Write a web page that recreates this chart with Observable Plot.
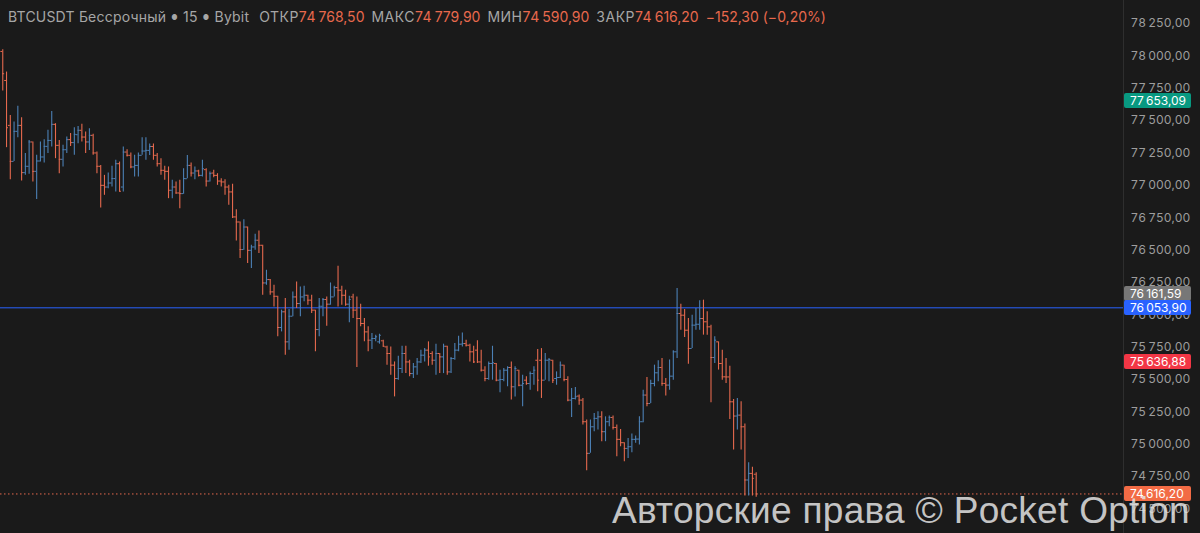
<!DOCTYPE html>
<html><head><meta charset="utf-8">
<script src="https://cdn.jsdelivr.net/npm/d3@7"></script>
<script src="https://cdn.jsdelivr.net/npm/@observablehq/plot@0.6"></script>
<style>
body{margin:0;background:#1a1a1a;}
#wrap{position:relative;width:1200px;height:533px;overflow:hidden;font-family:Inter,"Noto Sans",sans-serif;background:#1a1a1a;}
#chart svg{display:block;}
#hdr{position:absolute;left:8px;top:9px;font-size:14px;letter-spacing:0.5px;line-height:16px;color:#a6a6a6;white-space:nowrap;}
#hdr .t{letter-spacing:0.2px;}
#hdr .v{color:#e8694d;}
#hdr .dot{font-size:7px;vertical-align:2px;margin:0 1px;}
#sep{position:absolute;left:1123px;top:0;width:1px;height:533px;background:#2e2e2e;}
.badge{position:absolute;left:1124px;width:67px;height:15px;line-height:15px;border-radius:2px;color:#fff;font-size:12px;padding-left:6px;box-sizing:border-box;white-space:nowrap;}
#wm{position:absolute;left:612px;top:492px;font-family:"Liberation Sans",Arial,sans-serif;font-size:37px;letter-spacing:0.3px;line-height:37px;color:rgba(228,228,228,0.86);white-space:nowrap;}
</style></head>
<body>
<div id="wrap">
  <div id="chart"></div>
  <div id="sep"></div>
  <div id="hdr"></div>
  <div id="badges"></div>
  <div id="wm">Авторские права © Pocket Option</div>
</div>
<script>
const titleParts = ["BTCUSDT Бессрочный", "15", "Bybit"];
const opens = [78034,77810,77463,77185,77417,77463,77098,77147,77335,77108,77188,77219,77301,77347,77471,77309,77201,77275,77353,77330,77391,77425,77373,77335,77386,77250,77147,77000,76987,77018,77052,77167,76987,77257,77232,77142,77154,77232,77265,77270,77300,77232,77167,77116,77108,76962,76987,76941,76936,
77051,77154,77095,77111,77077,77121,77033,77095,77077,77033,77026,76987,76949,76756,76717,76504,76678,76498,76524,76576,76537,76246,76272,76177,76143,75902,76023,75791,75989,76138,76087,76138,76151,76113,76036,75886,76066,76118,76082,76138,76210,76190,76151,76082,76138,76036,75971,75933,75868,75804,75817,
75791,75799,75752,75701,75611,75508,75585,75701,75636,75546,75598,75636,75688,75727,75701,75649,75701,75675,75757,75559,75662,75727,75773,75778,75765,75714,75727,75636,75572,75508,75624,75624,75495,75500,75572,75593,75444,75572,75456,75495,75469,75546,75649,75649,75495,75649,75649,75508,75516,75611,75500,
75341,75354,75372,75341,75174,74930,75135,75200,75212,75097,75174,75207,75130,75038,75012,74968,74981,75038,75040,75174,75380,75315,75470,75552,75593,75470,75457,75526,75714,76010,75997,75881,75740,75920,75927,75971,75946,75907,75670,75791,75624,75521,75520,75328,75218,75225,75135,74724,74775,74768.5];
const highs = [78047,77875,77540,77489,77610,77522,77245,77347,77335,77232,77335,77353,77425,77571,77476,77347,77309,77373,77400,77445,77455,77471,77412,77437,77394,77257,77154,77077,77095,77147,77193,77180,77296,77275,77250,77232,77250,77368,77368,77320,77320,77245,77206,77147,77142,77039,77026,77039,77129,
77231,77172,77141,77116,77193,77129,77103,77116,77090,77051,77044,77000,77008,76812,76717,76735,76678,76537,76622,76648,76537,76344,76272,76228,76143,76036,76125,76041,76177,76254,76215,76221,76151,76151,76036,76125,76125,76138,76246,76221,76375,76221,76190,76143,76159,76138,76082,75971,75907,75855,75843,
75850,75804,75757,75752,75636,75680,75757,75757,75649,75624,75662,75727,75739,75791,75714,75773,75701,75773,75757,75670,75778,75835,75860,75804,75773,75757,75799,75727,75598,75636,75757,75624,75572,75585,75598,75636,75598,75572,75534,75521,75559,75598,75732,75739,75701,75662,75649,75559,75636,75611,75521,
75431,75439,75380,75354,75187,75187,75238,75251,75251,75212,75218,75218,75148,75115,75012,75045,75079,75063,75212,75418,75516,75495,75611,75645,75663,75508,75650,75722,76203,76082,76041,75971,75997,76048,76108,76113,76023,75920,75830,75791,75727,75663,75603,75346,75354,75328,75157,74858,74822,74779.9];
const lows = [77728,77291,77044,77185,77368,77034,77077,77085,77026,76890,77180,77172,77245,77296,77206,77090,77142,77245,77300,77232,77322,77335,77245,77270,77232,77090,76825,76923,76974,76987,76949,76949,76949,77219,77129,77064,77064,77232,77193,77230,77193,77142,77077,77039,76897,76897,76931,76820,76931,
77051,77064,77044,77064,77064,76987,77026,77059,77000,76987,76923,76846,76743,76570,76434,76498,76396,76357,76498,76473,76151,76228,76151,76061,75830,75868,75688,75727,75984,76048,75984,76100,76074,76010,75714,75830,75984,75912,76074,76138,76061,76074,76066,75938,75971,75593,75907,75791,75714,75732,75791,
75773,75752,75611,75534,75366,75495,75546,75546,75521,75508,75534,75624,75636,75603,75611,75534,75546,75546,75534,75546,75649,75714,75752,75752,75636,75624,75624,75559,75482,75495,75495,75482,75397,75482,75444,75341,75366,75444,75289,75456,75418,75456,75405,75354,75495,75482,75469,75456,75508,75482,75328,
75207,75341,75302,75148,74796,74930,75097,75110,75020,75020,75135,75110,74904,74981,74865,74891,74935,75007,74994,75166,75290,75315,75444,75482,75449,75372,75418,75495,75663,75881,75825,75619,75740,75881,75881,75843,75843,75320,75624,75573,75495,75470,75192,74955,75110,74955,74600,74600,74600,74590.9];
const closes = [77862,77445,77185,77417,77463,77098,77147,77335,77108,77188,77219,77301,77347,77471,77309,77201,77275,77353,77330,77394,77425,77373,77335,77386,77250,77147,77000,76987,77018,77052,77167,76954,77257,77232,77142,77154,77232,77265,77270,77300,77232,77167,77116,77108,76962,76987,76941,76936,77052,
77154,77095,77111,77077,77129,77033,77090,77077,77033,77026,76987,76949,76756,76717,76504,76678,76498,76524,76576,76537,76246,76272,76177,76143,75902,76023,75791,75989,76138,76087,76138,76151,76113,76036,75886,76066,76118,76082,76138,76210,76190,76151,76082,76118,76036,75971,75933,75868,75804,75817,75830,
75842,75757,75701,75611,75508,75585,75701,75636,75546,75598,75636,75688,75727,75675,75649,75701,75675,75757,75559,75662,75727,75773,75778,75765,75714,75636,75636,75572,75508,75624,75630,75495,75500,75572,75593,75444,75585,75456,75469,75469,75546,75572,75495,75495,75649,75655,75495,75516,75611,75500,75341,
75354,75367,75341,75174,74930,75135,75200,75212,75097,75174,75207,75130,75038,75012,74968,74981,75038,75040,75174,75380,75315,75470,75552,75593,75470,75457,75526,75714,76010,75997,75881,75740,75920,75927,75971,75946,75907,75670,75804,75624,75521,75520,75328,75218,75225,75135,74724,74775,74737,74616.2];
const priceTicks = [74500,74750,75000,75250,75500,75750,76000,76250,76500,76750,77000,77250,77500,77750,78000,78250];
const levelLine = 76053.90;
const badgeValues = [77653.09, 76161.59, 76053.90, 75636.88, 74616.20];
const badgeColors = ["#089981", "#777777", "#2962ff", "#f23645", "#f26b45"];
const headerLabels = ["ОТКР", "МАКС", "МИН", "ЗАКР"];

const UP = "#4c80b5", DOWN = "#e5694e";
const bars = opens.map((o, i) => ({i, open: o, high: highs[i], low: lows[i], close: closes[i], c: closes[i] >= o ? UP : DOWN}));
const n = bars.length;
const last = bars[n - 1];

const loc = d3.formatLocale({decimal: ",", thousands: "\u202f", grouping: [3], currency: ["", ""], minus: "\u2212"});
const fmt = loc.format(",.2f");
const fmtPct = loc.format(".2f");

const chart = Plot.plot({
  width: 1200, height: 533,
  marginLeft: 0, marginTop: 0, marginBottom: 0, marginRight: 77,
  style: {background: "#1a1a1a", color: "#9d9d9d", fontSize: "12px", fontFamily: "Inter, 'Noto Sans', sans-serif"},
  x: {domain: [-0.6, n - 1 + 97.5], axis: null},
  y: {domain: [74500, 78250], range: [508.5, 23], axis: "right", ticks: priceTicks, tickFormat: fmt, tickSize: 0, tickPadding: 7, label: null},
  color: {type: "identity"},
  marks: [
    Plot.ruleY([levelLine], {y: d => d, stroke: "#2962ff", strokeWidth: 1}),
    Plot.ruleY([last.close], {y: d => d, stroke: DOWN, strokeDasharray: "1.5,2.5", strokeWidth: 1}),
    Plot.ruleX(bars, {x: "i", y1: "low", y2: "high", stroke: "c", strokeWidth: 1.1}),
    Plot.ruleY(bars, {y: "open", x1: d => d.i - 0.5, x2: "i", stroke: "c", strokeWidth: 1}),
    Plot.ruleY(bars, {y: "close", x1: "i", x2: d => d.i + 0.5, stroke: "c", strokeWidth: 1})
  ]
});
document.getElementById("chart").appendChild(chart);

// header
const chg = last.close - last.open;
const pct = chg / last.open * 100;
const vals = [last.open, last.high, last.low, last.close];
let html = `<span class="t">${titleParts.join(' <span class="dot">●</span> ')}</span>`;
headerLabels.forEach((lab, k) => {
  html += `<span style="margin-left:${k === 0 ? 10 : 7}px">${lab}</span><span class="v">${fmt(vals[k])}</span>`;
});
html += `<span class="v" style="margin-left:7px">${fmt(chg)} (${fmtPct(pct)}%)</span>`;
document.getElementById("hdr").innerHTML = html;

// price badges
const ys = chart.scale("y");
const bd = document.getElementById("badges");
badgeValues.forEach((v, k) => {
  const el = document.createElement("div");
  el.className = "badge";
  el.style.background = badgeColors[k];
  el.style.top = (ys.apply(v) - 7.5) + "px";
  el.textContent = fmt(v);
  bd.appendChild(el);
});
</script>
</body></html>
